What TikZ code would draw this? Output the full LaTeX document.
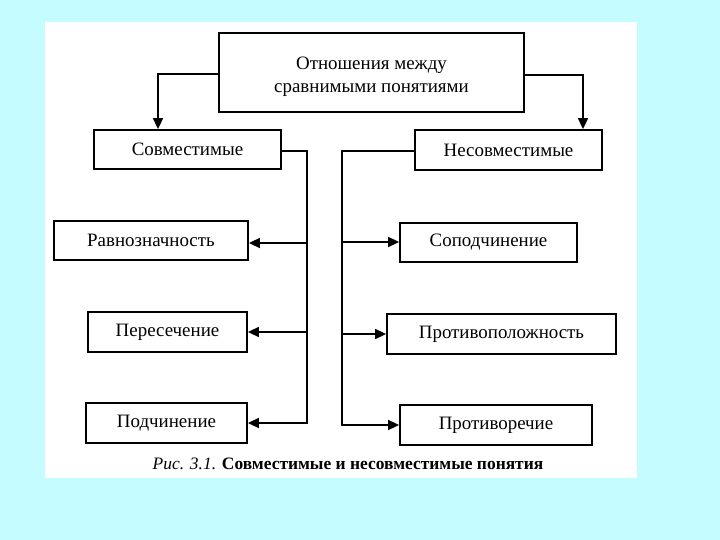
\documentclass[tikz,border=0pt]{standalone}
\usepackage{fontspec}
\setmainfont{Liberation Serif}
\usetikzlibrary{arrows.meta}
\definecolor{bgcyan}{RGB}{196,252,255}
\tikzset{
  box/.style={draw=black, line width=1.8pt, fill=white, inner sep=0pt, font=\fontsize{19}{23}\selectfont, align=center},
  conn/.style={draw=black, line width=1.6pt},
  arr/.style={conn, -{Triangle[length=11pt,width=10pt]}},
}
\begin{document}
\begin{tikzpicture}[x=1bp,y=-1bp]
\useasboundingbox (0,0) rectangle (720,540);
\fill[bgcyan] (0,0) rectangle (720,540);
\fill[white] (45,22) rectangle (637,478);

\node[box, minimum width=305bp, minimum height=79bp] (top) at (371.5,72.5) {\rule{0pt}{22pt}Отношения между\\сравнимыми понятиями};
\node[box, minimum width=187bp, minimum height=39bp] (sov) at (187.5,149.5) {Совместимые};
\node[box, minimum width=187bp, minimum height=40bp] (nesov) at (508.5,150) {Несовместимые};
\node[box, minimum width=194bp, minimum height=39bp] (ravn) at (151,240.5) {Равнозначность};
\node[box, minimum width=159bp, minimum height=40bp] (peres) at (167.5,332) {Пересечение};
\node[box, minimum width=161bp, minimum height=40bp] (podch) at (166.5,423) {Подчинение};
\node[box, minimum width=177bp, minimum height=39bp] (sopod) at (488.5,242.5) {Соподчинение};
\node[box, minimum width=229bp, minimum height=40bp] (protivopol) at (501.5,334) {Противоположность};
\node[box, minimum width=192bp, minimum height=40bp] (protivor) at (496,425) {Противоречие};

\node[font=\fontsize{17.5}{20}\selectfont, inner sep=0pt] (caption) at (348,464) {\textit{Рис. 3.1.} \textbf{Совместимые и несовместимые понятия}};

\coordinate (lt) at (158,74);
\coordinate (rt) at (583,75);
\coordinate (ltr) at (307,151);
\coordinate (rtr) at (342,151);
\coordinate (ravnY) at (0,243);
\coordinate (sopodY) at (0,242);

\draw[arr] (top.west |- lt) -- (lt) -- (lt |- sov.north);
\draw[arr] (top.east |- rt) -- (rt) -- (rt |- nesov.north);

\draw[arr] (sov.east |- ltr) -- (ltr) -- (ltr |- podch.east) -- (podch.east);
\draw[arr] (ltr |- ravnY) -- (ravn.east |- ravnY);
\draw[arr] (ltr |- peres.east) -- (peres.east);

\draw[arr] (nesov.west |- rtr) -- (rtr) -- (rtr |- protivor.west) -- (protivor.west);
\draw[arr] (rtr |- sopodY) -- (sopod.west |- sopodY);
\draw[arr] (rtr |- protivopol.west) -- (protivopol.west);
\end{tikzpicture}
\end{document}
